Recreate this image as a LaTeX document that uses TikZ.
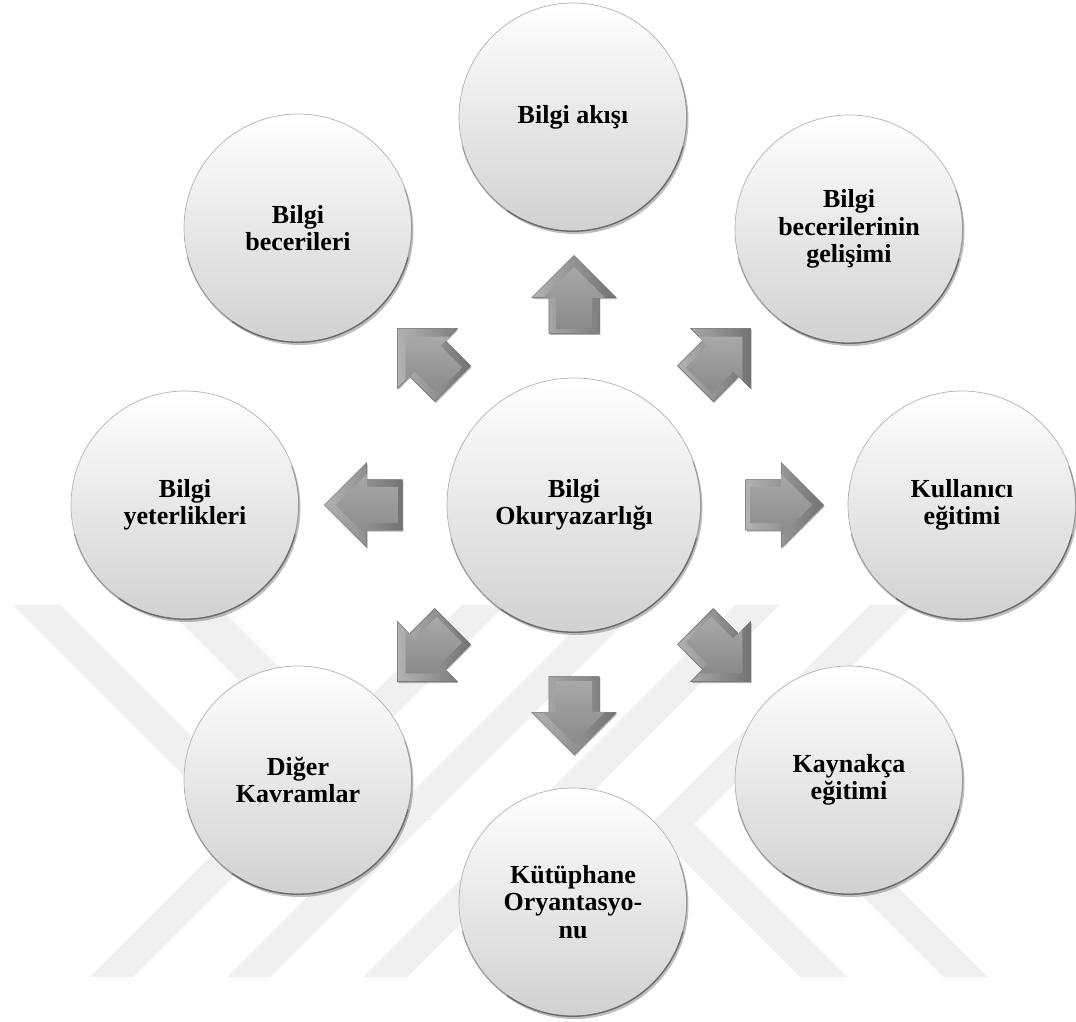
\documentclass[tikz,border=0pt]{standalone}
\usepackage{fontspec}
\setmainfont{Liberation Serif}
\usetikzlibrary{shapes.arrows,shadows,calc}
\begin{document}
\begin{tikzpicture}[x=1pt,y=1pt,
  wm/.style={fill=black!6, draw=none},
  ball/.style={circle, minimum size=228pt, inner sep=0pt, align=center,
    font=\fontsize{26}{27.5}\selectfont\bfseries,
    top color=white, bottom color=black!18, draw=black!30, line width=0.7pt,
    drop shadow={shadow xshift=1.5pt, shadow yshift=-3pt, opacity=0.25, fill=black}},
  bigball/.style={ball, minimum size=254pt},
  rimlight/.style={draw=black!40, line width=1pt, line cap=round},
  rimdark/.style={draw=black!58, line width=1.3pt, line cap=round},
  blockarrow/.style={single arrow, minimum height=78pt, inner xsep=0pt, inner ysep=25pt,
    single arrow head extend=17pt, single arrow tip angle=90, draw=black!58, line width=0.5pt,
    left color=black!30, right color=black!55,
    drop shadow={shadow xshift=1pt, shadow yshift=-1.5pt, opacity=0.3, fill=black}},
  innerarrow/.style={single arrow, minimum height=62pt, inner xsep=0pt, inner ysep=18pt,
    single arrow head extend=13pt, single arrow tip angle=90, draw=none,
    top color=black!34, bottom color=black!46},
]
% canvas
\fill[white] (0,0) rectangle (1076,1021);
\useasboundingbox (0,0) rectangle (1076,1021);

% watermark stripes
\fill[wm] (13,416) -- (60,416) -- (285,191) -- (238,191) -- cycle;
\fill[wm] (90,44) -- (133,44) -- (505,416) -- (462,416) -- cycle;
\fill[wm] (163,416) -- (217,416) -- (432,201) -- (378,201) -- cycle;
\fill[wm] (227,44) -- (270,44) -- (642,416) -- (599,416) -- cycle;
\fill[wm] (363,44) -- (407,44) -- (779,416) -- (735,416) -- cycle;
\fill[wm] (870,416) -- (913,416) -- (694,197) -- (847,44) -- (800,44) -- (649,195) -- cycle;
\fill[wm] (943,44) -- (988,44) -- (771,261) -- (726,261) -- cycle;

% centre
\coordinate (C) at (574,516);

% circles
\node[bigball] (bo) at (C) {Bilgi\\Okuryazarlığı};
\node[ball] (ba) at (573,904) {Bilgi akışı};
\node[ball] (bbg) at (849,792) {Bilgi\\becerilerinin\\gelişimi};
\node[ball] (ke) at (962,516) {Kullanıcı\\eğitimi};
\node[ball] (kye) at (849,241) {Kaynakça\\eğitimi};
\node[ball] (ko) at (573,119) {Kütüphane\\Oryantasyo-\\nu};
\node[ball] (dk) at (298,241) {Diğer\\Kavramlar};
\node[ball] (by) at (185,516) {Bilgi\\yeterlikleri};
\node[ball] (bb) at (298,793) {Bilgi\\becerileri};

% darker rims on the lower right
\foreach \n/\r in {bo/127,ba/114,bbg/114,ke/114,kye/114,ko/114,dk/114,by/114,bb/114}{
  \draw[rimlight] (\n.-165) arc[start angle=-165, end angle=20, radius=\r];
  \draw[rimdark] (\n.-125) arc[start angle=-125, end angle=-15, radius=\r];
}

% arrows
\foreach \nm/\ang in {aU/90, aNE/45, aE/0, aSE/-45, aS/-90, aSW/-135, aW/180, aNW/135}{
  \node[blockarrow, rotate=\ang] (\nm) at ($(C)+(\ang:198)$) {};
  \node[innerarrow, rotate=\ang] (\nm i) at ($(C)+(\ang:198)$) {};
}
\end{tikzpicture}
\end{document}
